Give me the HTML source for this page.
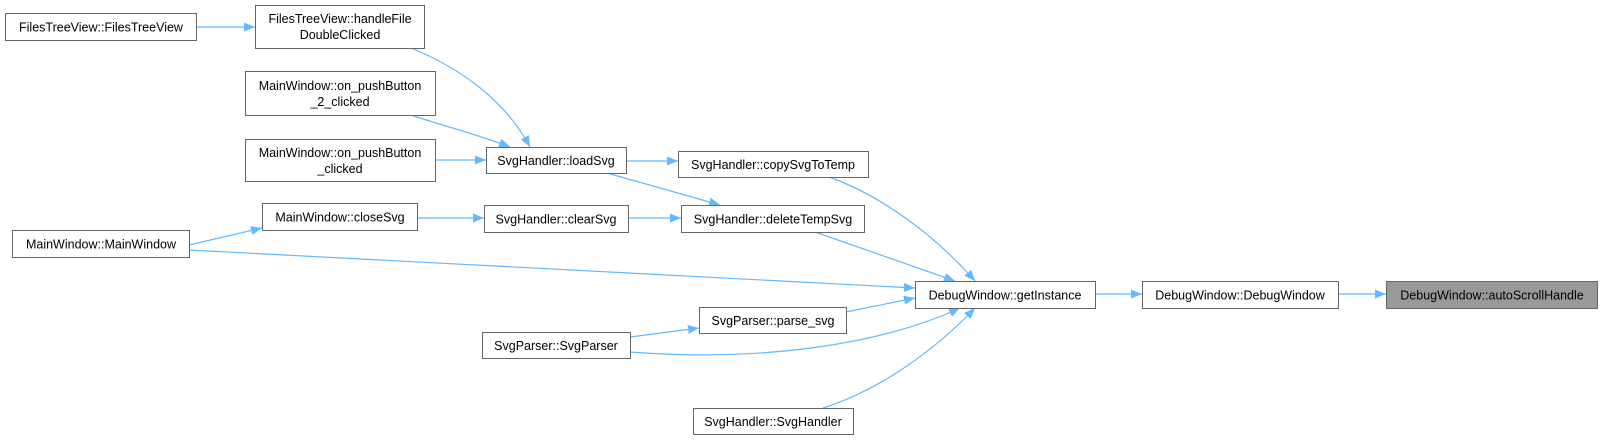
<!DOCTYPE html>
<html><head><meta charset="utf-8"><style>
html,body{margin:0;padding:0;background:#fff;}
svg{display:block;}
text{font-family:"Liberation Sans",Arial,sans-serif;font-size:12.5px;fill:#000;}
.b{fill:#fff;stroke:#666;stroke-width:1;}
.e{fill:none;stroke:#63b8ff;stroke-width:1.2;marker-end:url(#a);}
</style></head><body>
<svg width="1602" height="440" viewBox="0 0 1602 440" xmlns="http://www.w3.org/2000/svg">
<defs><marker id="a" markerWidth="11" markerHeight="9" refX="11" refY="4.5" orient="auto" markerUnits="userSpaceOnUse"><path d="M0,0 L11,4.5 L0,9 Z" fill="#63b8ff"/></marker></defs>

<path class="e" d="M196,27 L255,27"/>
<path class="e" d="M411,48 C460,68 505,100 530,147"/>
<path class="e" d="M411,115 C440,125 480,135 510,147"/>
<path class="e" d="M435,160 L486,160"/>
<path class="e" d="M626,161 L678,161"/>
<path class="e" d="M607,173 L720,205"/>
<path class="e" d="M189,245 L262,228"/>
<path class="e" d="M417,218 L484,218"/>
<path class="e" d="M628,218 L681,218"/>
<path class="e" d="M829,177 C880,195 935,235 975,281"/>
<path class="e" d="M815,232 L955,281"/>
<path class="e" d="M189,250 L915,288"/>
<path class="e" d="M846,312 L915,298"/>
<path class="e" d="M630,337 L699,328"/>
<path class="e" d="M630,352 C760,362 880,345 960,308"/>
<path class="e" d="M823,408 C880,390 935,350 975,308"/>
<path class="e" d="M1095,294 L1142,294"/>
<path class="e" d="M1338,294 L1386,294"/>

<rect class="b" x="5.5" y="13.5" width="191" height="27"/><text x="101" y="31.5" text-anchor="middle">FilesTreeView::FilesTreeView</text>
<rect class="b" x="255.5" y="5.5" width="169" height="43"/><text x="340" y="23" text-anchor="middle">FilesTreeView::handleFile</text><text x="340" y="39" text-anchor="middle">DoubleClicked</text>
<rect class="b" x="245.5" y="71.5" width="190" height="44"/><text x="340" y="90" text-anchor="middle">MainWindow::on_pushButton</text><text x="340" y="106" text-anchor="middle">_2_clicked</text>
<rect class="b" x="245.5" y="139.5" width="190" height="42"/><text x="340" y="157" text-anchor="middle">MainWindow::on_pushButton</text><text x="340" y="173" text-anchor="middle">_clicked</text>
<rect class="b" x="262.5" y="203.5" width="155" height="27"/><text x="340" y="221.5" text-anchor="middle">MainWindow::closeSvg</text>
<rect class="b" x="12.5" y="230.5" width="177" height="27"/><text x="101" y="248.5" text-anchor="middle">MainWindow::MainWindow</text>
<rect class="b" x="486.5" y="147.5" width="140" height="26"/><text x="556" y="165" text-anchor="middle">SvgHandler::loadSvg</text>
<rect class="b" x="678.5" y="151.5" width="190" height="26"/><text x="773" y="169" text-anchor="middle">SvgHandler::copySvgToTemp</text>
<rect class="b" x="484.5" y="205.5" width="144" height="27"/><text x="556" y="223.5" text-anchor="middle">SvgHandler::clearSvg</text>
<rect class="b" x="681.5" y="205.5" width="183" height="27"/><text x="773" y="223.5" text-anchor="middle">SvgHandler::deleteTempSvg</text>
<rect class="b" x="699.5" y="307.5" width="147" height="26"/><text x="773" y="325" text-anchor="middle">SvgParser::parse_svg</text>
<rect class="b" x="482.5" y="332.5" width="148" height="26"/><text x="556" y="350" text-anchor="middle">SvgParser::SvgParser</text>
<rect class="b" x="693.5" y="408.5" width="160" height="26"/><text x="773" y="426" text-anchor="middle">SvgHandler::SvgHandler</text>
<rect class="b" x="915.5" y="281.5" width="180" height="27"/><text x="1005" y="299.5" text-anchor="middle">DebugWindow::getInstance</text>
<rect class="b" x="1142.5" y="281.5" width="196" height="27"/><text x="1240" y="299.5" text-anchor="middle">DebugWindow::DebugWindow</text>
<rect x="1386.5" y="281.5" width="211" height="27" fill="#999" stroke="#666"/><text x="1492" y="299.5" text-anchor="middle">DebugWindow::autoScrollHandle</text>
</svg>
</body></html>
